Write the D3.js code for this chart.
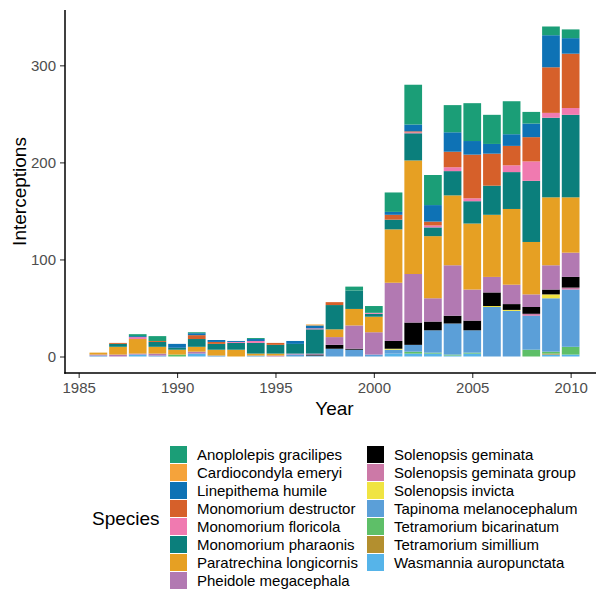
<!DOCTYPE html>
<html>
<head>
<meta charset="utf-8">
<script src="https://cdn.jsdelivr.net/npm/d3@7"></script>
<style>
  html, body { margin: 0; padding: 0; background: #ffffff; }
  svg { display: block; font-family: "Liberation Sans", Arial, Helvetica, sans-serif; }
</style>
</head>
<body>
<svg id="chart" width="596" height="592"></svg>
<script>
// Ant interceptions per year, stacked by species
const years = [1986, 1987, 1988, 1989, 1990, 1991, 1992, 1993, 1994, 1995, 1996, 1997, 1998,
               1999, 2000, 2001, 2002, 2003, 2004, 2005, 2006, 2007, 2008, 2009, 2010];

const species = [
  "Anoplolepis gracilipes", "Cardiocondyla emeryi", "Linepithema humile",
  "Monomorium destructor", "Monomorium floricola", "Monomorium pharaonis",
  "Paratrechina longicornis", "Pheidole megacephala", "Solenopsis geminata",
  "Solenopsis geminata group", "Solenopsis invicta", "Tapinoma melanocephalum",
  "Tetramorium bicarinatum", "Tetramorium simillium", "Wasmannia auropunctata"
];

const speciesColors = [
  "#1b9e77", "#f5a33b", "#0e72b5", "#d6602a", "#f07ab0", "#0b7f7c", "#e6a023",
  "#b279b2", "#000000", "#cc79a7", "#f0e442", "#5b9fd8", "#5ebf68", "#b38f2f", "#56b4e9"
];

// one row per year, columns in the same order as `species`
const counts = [
  [ 0, 0,  0,  0,  0,  0,   2,  1,  0, 0, 0,  1, 0, 0, 0], // 1986
  [ 0, 0,  0,  1,  0,  3,   8,  2,  0, 0, 0,  0, 0, 0, 0], // 1987
  [ 2, 0,  1,  0,  2,  0,  15,  1,  0, 0, 0,  0, 0, 0, 2], // 1988
  [ 5, 0,  0,  1,  0,  5,   7,  2,  0, 0, 0,  1, 0, 0, 0], // 1989
  [ 0, 0,  4,  0,  0,  2,   5,  0,  0, 0, 0,  0, 2, 0, 0], // 1990
  [ 1, 0,  2,  4,  0,  8,   5,  2,  0, 0, 0,  0, 0, 0, 3], // 1991
  [ 0, 0,  2,  2,  0,  6,   6,  0,  0, 0, 0,  1, 0, 0, 0], // 1992
  [ 0, 0,  1,  0,  1,  7,   7,  0,  0, 0, 0,  0, 0, 0, 0], // 1993
  [ 1, 0,  2,  0,  2, 11,   2,  0,  0, 0, 0,  1, 0, 0, 0], // 1994
  [ 0, 0,  0,  2,  0,  9,   2,  1,  0, 0, 0,  0, 0, 0, 0], // 1995
  [ 0, 0,  3,  0,  0, 10,   0,  1,  0, 0, 0,  2, 0, 0, 0], // 1996
  [ 0, 1,  3,  0,  1, 25,   0,  1,  1, 0, 0,  1, 0, 0, 0], // 1997
  [ 0, 0,  0,  3,  0, 25,   8,  8,  4, 0, 0,  8, 0, 0, 0], // 1998
  [ 4, 0,  0,  0,  0, 19,  17, 24,  1, 0, 0,  7, 0, 0, 0], // 1999
  [ 7, 0,  0,  0,  1,  3,  16, 23,  0, 0, 0,  2, 0, 0, 0], // 2000
  [20, 0,  3,  5,  0, 10,  55, 60,  8, 0, 1,  4, 0, 0, 3], // 2001
  [41, 0,  7,  1,  1, 28, 117, 50, 23, 0, 0,  7, 2, 0, 3], // 2002
  [31, 0, 17,  4,  2,  9,  64, 24,  9, 0, 0, 23, 1, 0, 3], // 2003
  [28, 0, 20, 16,  4, 25,  72, 52,  8, 0, 0, 32, 1, 0, 1], // 2004
  [39, 0, 14, 45,  3, 23,  68, 32, 10, 0, 0, 23, 1, 0, 3], // 2005
  [30, 0, 10, 33,  0, 30,  64, 16, 14, 0, 1, 51, 0, 0, 0], // 2006
  [34, 0, 12, 20,  7, 38,  78, 20,  6, 0, 1, 47, 0, 0, 0], // 2007
  [12, 0, 14, 25, 20, 63,  54, 13,  7, 2, 0, 35, 7, 0, 0], // 2008
  [ 9, 0, 33, 47,  5, 82,  70, 25,  5, 0, 4, 55, 2, 1, 2], // 2009
  [ 9, 0, 16, 56,  7, 85,  57, 25, 11, 2, 0, 59, 8, 0, 2]  // 2010
];

const xTicks = [1985, 1990, 1995, 2000, 2005, 2010];
const yTicks = [0, 100, 200, 300];

const svg = d3.select("#chart");

// panel geometry
const panel = { left: 65, right: 604, top: 10, bottom: 373 };
const barWidth = 0.9;

const rows = years.map((yr, i) => {
  const r = { year: yr };
  species.forEach((s, j) => { r[s] = counts[i][j]; });
  return r;
});

// first species sits on top of each bar, last one at the base
const stack = d3.stack().keys(species.slice().reverse());
const layers = stack(rows);

const maxTotal = d3.max(layers[layers.length - 1], d => d[1]);
const xMin = years[0] - barWidth / 2, xMax = years[years.length - 1] + barWidth / 2;
const xPad = (xMax - xMin) * 0.05;
const yPad = maxTotal * 0.05;

const x = d3.scaleLinear().domain([xMin - xPad, xMax + xPad]).range([panel.left, panel.right]);
const y = d3.scaleLinear().domain([-yPad, maxTotal + yPad]).range([panel.bottom, panel.top]);
const color = d3.scaleOrdinal().domain(species).range(speciesColors);

// bars
const gBars = svg.append("g");
gBars.selectAll("g.layer")
  .data(layers)
  .join("g")
  .attr("class", "layer")
  .attr("fill", d => color(d.key))
  .selectAll("rect")
  .data(d => d.filter(p => p[1] > p[0]))
  .join("rect")
  .attr("x", d => x(d.data.year - barWidth / 2))
  .attr("width", d => x(d.data.year + barWidth / 2) - x(d.data.year - barWidth / 2))
  .attr("y", d => y(d[1]))
  .attr("height", d => y(d[0]) - y(d[1]));

// axes
const tickColor = "#333333";
const labelColor = "#4d4d4d";

const xAxis = svg.append("g")
  .attr("transform", `translate(0,${panel.bottom})`)
  .call(d3.axisBottom(x).tickValues(xTicks).tickFormat(d3.format("d")).tickSize(5).tickPadding(4));
const yAxis = svg.append("g")
  .attr("transform", `translate(${panel.left},0)`)
  .call(d3.axisLeft(y).tickValues(yTicks).tickSize(5).tickPadding(4));

[xAxis, yAxis].forEach(g => {
  g.select(".domain").remove();
  g.selectAll(".tick line").attr("stroke", tickColor).attr("stroke-width", 1.1);
  g.selectAll(".tick text")
    .attr("fill", labelColor)
    .style("font-size", "15px")
    .style("font-family", "'Liberation Sans', Arial, sans-serif");
});

// axis lines
svg.append("line")
  .attr("x1", panel.left).attr("x2", panel.left)
  .attr("y1", panel.top).attr("y2", panel.bottom + 0.75)
  .attr("stroke", "#000").attr("stroke-width", 1.5);
svg.append("line")
  .attr("x1", panel.left - 0.75).attr("x2", panel.right)
  .attr("y1", panel.bottom).attr("y2", panel.bottom)
  .attr("stroke", "#000").attr("stroke-width", 1.5);

// axis titles
svg.append("text")
  .attr("x", (panel.left + panel.right) / 2)
  .attr("y", 415)
  .attr("text-anchor", "middle")
  .style("font-size", "19px")
  .attr("fill", "#000")
  .text("Year");

svg.append("text")
  .attr("transform", `translate(26,${(panel.top + panel.bottom) / 2}) rotate(-90)`)
  .attr("text-anchor", "middle")
  .style("font-size", "19px")
  .attr("fill", "#000")
  .text("Interceptions");

// legend: two columns filled top to bottom
const legend = svg.append("g");
const perCol = Math.ceil(species.length / 2);
const colKeyX = [170, 367];
const rowTop = 446, rowStep = 18, keySize = 17;

legend.append("text")
  .attr("x", 92)
  .attr("y", rowTop + (perCol * rowStep) / 2 + 6.5)
  .style("font-size", "19px")
  .attr("fill", "#000")
  .text("Species");

const items = legend.selectAll("g.item")
  .data(species)
  .join("g")
  .attr("class", "item")
  .attr("transform", (d, i) => {
    const c = Math.floor(i / perCol), r = i % perCol;
    return `translate(${colKeyX[c]},${rowTop + r * rowStep})`;
  });

items.append("rect")
  .attr("width", keySize)
  .attr("height", keySize)
  .attr("fill", d => color(d));

items.append("text")
  .attr("x", keySize + 10)
  .attr("y", keySize / 2 + 5.3)
  .style("font-size", "15px")
  .attr("fill", "#000")
  .text(d => d);
</script>
</body>
</html>
